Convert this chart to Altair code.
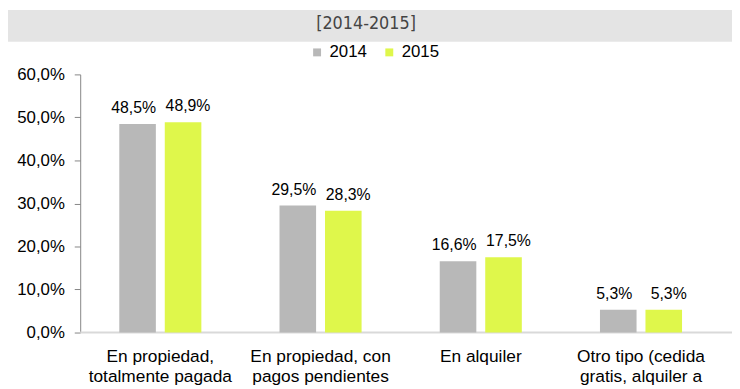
import altair as alt
import pandas as pd

categories = ["En propiedad,|totalmente pagada",
              "En propiedad, con|pagos pendientes",
              "En alquiler",
              "Otro tipo (cedida|gratis, alquiler a"]
years = ["2014", "2015"]
v2014 = [48.5, 29.5, 16.6, 5.3]
v2015 = [48.9, 28.3, 17.5, 5.3]
colors = ["#b8b8b8", "#dff74b"]
subtitle = "[2014-2015]"

rows = []
for c, a, b in zip(categories, v2014, v2015):
    rows.append({"cat": c, "year": "2014", "v": a / 100, "lbl": f"{a:.1f}%".replace(".", ",")})
    rows.append({"cat": c, "year": "2015", "v": b / 100, "lbl": f"{b:.1f}%".replace(".", ",")})
df = pd.DataFrame(rows)

FONT = "Liberation Sans"

x = alt.X("cat:N", sort=categories, title=None,
          scale=alt.Scale(paddingInner=0, paddingOuter=0),
          axis=alt.Axis(labelExpr="split(datum.label, '|')", labelAngle=0,
                        labelFont=FONT, labelFontSize=17.5, labelColor="#000",
                        labelLineHeight=21, labelPadding=15, ticks=False,
                        domain=False, labelBaseline="top"))
xo = alt.XOffset("year:N", sort=years,
                 scale=alt.Scale(paddingInner=0.196, paddingOuter=0.859))
y = alt.Y("v:Q", title=None,
          scale=alt.Scale(domain=[0, 0.6], nice=False),
          axis=alt.Axis(values=[0, 0.1, 0.2, 0.3, 0.4, 0.5, 0.6],
                        labelExpr="replace(format(datum.value, '.1%'), '.', ',')",
                        labelFont=FONT, labelFontSize=17, labelColor="#000",
                        grid=False, domainColor="#868686", tickColor="#868686",
                        tickSize=6, labelPadding=10))

bars = alt.Chart(df).mark_bar().encode(
    x=x, xOffset=xo, y=y,
    color=alt.Color("year:N", sort=years,
                    scale=alt.Scale(domain=years, range=colors),
                    legend=alt.Legend(title=None, orient="none", direction="horizontal",
                                      legendX=231, legendY=-31, symbolType="square",
                                      symbolSize=64, symbolStrokeWidth=0,
                                      labelFont=FONT, labelFontSize=17, labelColor="#000",
                                      labelOffset=4, columnPadding=14))
)

labels14 = alt.Chart(df).transform_filter("datum.year == '2014'").mark_text(
    font=FONT, fontSize=16, color="#000", baseline="alphabetic", dy=-11, dx=-4).encode(
    x=x, xOffset=xo, y=y, text="lbl:N"
)
labels15 = alt.Chart(df).transform_filter("datum.year == '2015'").mark_text(
    font=FONT, fontSize=16, color="#000", baseline="alphabetic", dy=-11, dx=5).encode(
    x=x, xOffset=xo, y=y, text="lbl:N"
)

band_df = pd.DataFrame({"t": [subtitle]})
band = alt.Chart(band_df).mark_rect(color="#e4e4e4").encode(
    x=alt.value(-73), x2=alt.value(667), y=alt.value(-65), y2=alt.value(-33)
)
sub = alt.Chart(band_df).mark_text(font="DejaVu Sans Condensed", fontSize=18,
                                   color="#444", baseline="alphabetic",
                                   fontWeight=300).encode(
    x=alt.value(289), y=alt.value(-46), text="t:N"
)
baseline_rule = alt.Chart(band_df).mark_rule(color="#d9d9d9", strokeWidth=2).encode(
    x=alt.value(0), x2=alt.value(660), y=alt.value(261)
)

chart = alt.layer(band, sub, baseline_rule, bars, labels14, labels15).properties(
    width=648, height=261, autosize="none",
    padding={"left": 73, "top": 65, "right": 11, "bottom": 60}
).configure_view(stroke=None)

chart.save("out.html", embed_options={"renderer": "svg", "actions": False})
